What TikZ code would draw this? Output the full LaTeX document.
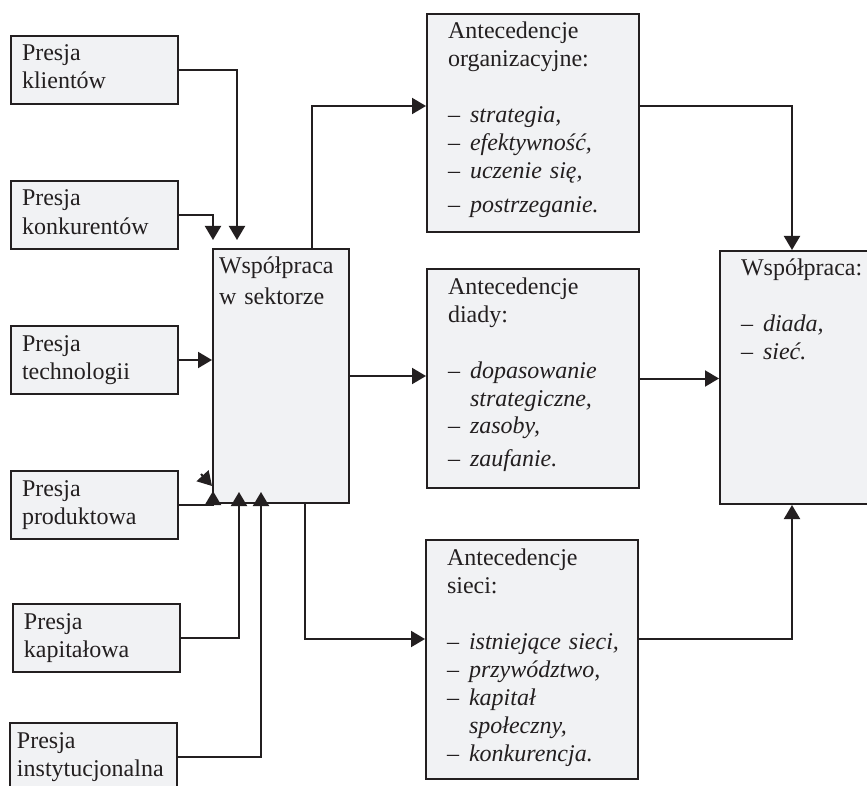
\documentclass[tikz,border=0pt]{standalone}
\usepackage{fontspec}
\setmainfont{Liberation Serif}
\usetikzlibrary{arrows.meta}
\definecolor{boxgray}{RGB}{241,242,244}
\definecolor{inkdark}{RGB}{35,31,32}
\newcommand{\punkt}[1]{\makebox[11pt][l]{--}\mbox{\textit{#1}}}
\newcommand{\dalej}{\hspace*{11pt}}

\begin{document}
\begin{tikzpicture}[x=0.5pt, y=-0.5pt,
    every node/.style={font=\fontsize{12}{14}\selectfont, text=inkdark},
    pole/.style={draw=inkdark, line width=1pt, fill=boxgray, anchor=north west,
        align=left, inner ysep=0pt, text height=12.5pt},
    presja/.style={pole, inner xsep=5.5pt, text width=72.5pt, text depth=21.5pt},
    ante/.style={pole, inner xsep=10.5pt, text width=85pt},
    arr/.style={-{Triangle[length=7pt,width=8pt]}, draw=inkdark, line width=1pt}]
  \useasboundingbox (0,0) rectangle (867,786);

  % Presje
  \node[presja] (kl) at (10,35) {Presja\\klientów};
  \node[presja] (ko) at (10,180) {Presja\\konkurentów};
  \node[presja] (te) at (10,325) {Presja\\technologii};
  \node[presja] (pr) at (10,470) {Presja\\produktowa};
  \node[presja] (ka) at (12,603) {Presja\\kapitałowa};
  \node[presja, inner xsep=3.5pt, text width=76.5pt] (in) at (9,722) {Presja\\instytucjonalna};

  % Wspolpraca w sektorze
  \node[pole, inner xsep=3pt, text width=62pt, text depth=114.5pt] (ws) at (212,248)
    {Współpraca\\[1.5pt]w sektorze};

  % Antecedencje
  \node[ante, text depth=96.5pt] (org) at (426,13)
    {Antecedencje\\organizacyjne:\\[14pt]\punkt{strategia,}\\\punkt{efektywność,}\\\punkt{uczenie się,}\\[3pt]\punkt{postrzeganie.}};
  \node[ante, text depth=97pt] (dia) at (426,268)
    {Antecedencje\\diady:\\[14pt]\punkt{dopasowanie}\\\dalej\textit{strategiczne,}\\\punkt{zasoby,}\\[2pt]\punkt{zaufanie.}};
  \node[ante, text depth=107pt] (siec) at (425,539)
    {Antecedencje\\sieci:\\[14pt]\punkt{istniejące sieci,}\\\punkt{przywództwo,}\\\punkt{kapitał}\\\dalej\textit{społeczny,}\\\punkt{konkurencja.}};

  % Wspolpraca
  \node[pole, inner xsep=10.5pt, text width=69pt, text depth=114pt] (wsp) at (719,250)
    {Współpraca:\\[14pt]\punkt{diada,}\\\punkt{sieć.}};

  % punkty zalamania
  \coordinate (kx1) at (237,0);
  \coordinate (kx4) at (239,0);
  \coordinate (kx5) at (261,0);
  \coordinate (ox) at (312,106);
  \coordinate (rx) at (792,106);
  \coordinate (sx) at (305,639);
  \coordinate (stray) at (201,474);

  % Presje -> wspolpraca w sektorze
  \draw[arr, shorten >=4pt] (kl.east) -| (ws.north -| kx1);
  \draw[arr, shorten >=4pt] (ko.east) -| ([xshift=0.5pt]ws.north west);
  \draw[arr] (te.east) -- (ws.west |- te.east);
  \draw[arr, shorten >=-6.5pt] (pr.east) -| ([xshift=0.5pt]ws.south west);
  \draw[arr, shorten >=-6pt] (ka.east) -| (ws.south -| kx4);
  \draw[arr, shorten >=-6pt] (in.east) -| (ws.south -| kx5);
  \draw[arr] (stray) -- ([yshift=9pt]ws.south west);

  % wspolpraca w sektorze -> antecedencje -> wspolpraca
  \draw[arr] (ws.north -| ox) |- (org.west |- ox);
  \draw[arr] (ws.east) -- (dia.west |- ws.east);
  \draw[arr] (ws.south -| sx) |- (siec.west |- sx);
  \draw[arr] (org.east |- rx) -| (wsp.north -| rx);
  \draw[arr] (dia.east) -- (wsp.west |- dia.east);
  \draw[arr] (siec.east |- sx) -| (wsp.south -| rx);
\end{tikzpicture}
\end{document}
